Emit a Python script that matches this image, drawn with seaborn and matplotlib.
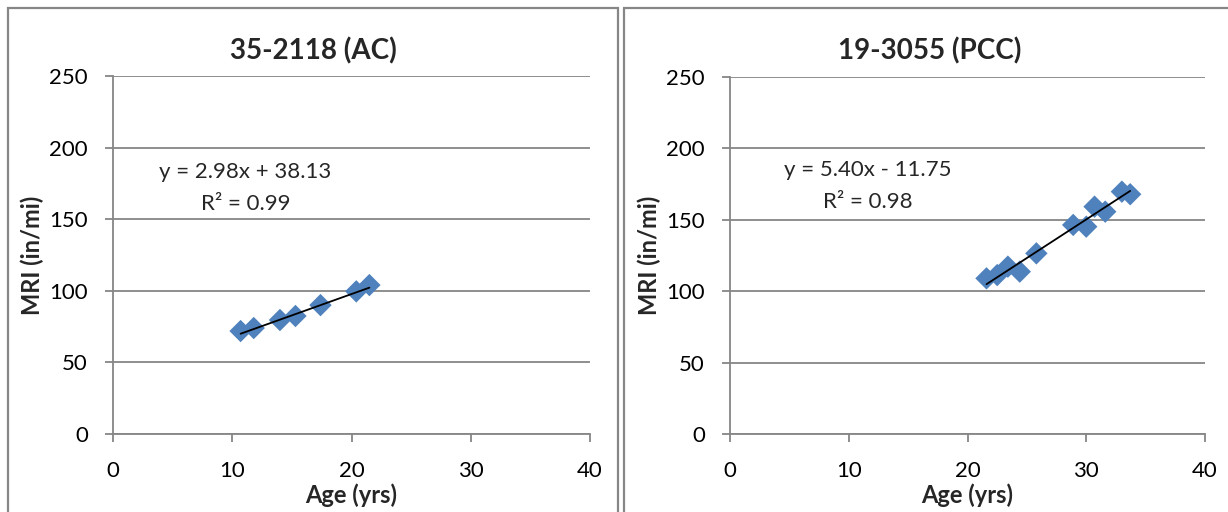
import numpy as np
import pandas as pd
import matplotlib
matplotlib.use("Agg")
import matplotlib.pyplot as plt
from matplotlib.patches import Rectangle
import seaborn as sns

# Section 35-2118 (AC)
ac_age = [10.7, 11.8, 14.0, 15.3, 17.4, 20.4, 21.5]
ac_mri = [71.9, 74.0, 79.6, 82.4, 90.0, 99.6, 104.0]
ac_slope, ac_intercept, ac_r2 = 2.98, 38.13, 0.99

# Section 19-3055 (PCC)
pcc_age = [21.6, 22.5, 23.4, 24.4, 25.8, 28.9, 30.0, 30.7, 31.6, 33.0, 33.7]
pcc_mri = [109.0, 111.3, 117.2, 113.7, 126.5, 146.4, 145.2, 159.2, 155.7, 169.7, 167.9]
pcc_slope, pcc_intercept, pcc_r2 = 5.40, -11.75, 0.98

titles = ["35-2118 (AC)", "19-3055 (PCC)"]
x_ticks = [0, 10, 20, 30, 40]
y_ticks = [0, 50, 100, 150, 200, 250]

sns.set_theme(style="white")
plt.rcParams["font.family"] = ["Lato", "DejaVu Sans"]

W, H = 1228, 512
fig = plt.figure(figsize=(W / 100, H / 100), dpi=100)

GRAY = "#868686"
BLUE = "#4F81BD"

# chart-area frames
fig.patches.append(Rectangle((8 / W, -0.05), 610 / W, 1.05 - 8 / H, transform=fig.transFigure,
                             fill=False, edgecolor=GRAY, linewidth=1.6))
fig.patches.append(Rectangle((624 / W, -0.05), 620 / W, 1.05 - 8 / H, transform=fig.transFigure,
                             fill=False, edgecolor=GRAY, linewidth=1.6))

panels = [
    dict(rect=[113 / W, 78 / H, 477 / W, 358 / H], age=ac_age, mri=ac_mri,
         m=ac_slope, b=ac_intercept, r2=ac_r2, title=titles[0], tx=313, eq=(11.1, 183, 160.5)),
    dict(rect=[730 / W, 78 / H, 475 / W, 357 / H], age=pcc_age, mri=pcc_mri,
         m=pcc_slope, b=pcc_intercept, r2=pcc_r2, title=titles[1], tx=930, eq=(11.6, 185, 162.5)),
]

for p in panels:
    ax = fig.add_axes(p["rect"])
    df = pd.DataFrame({"Age": p["age"], "MRI": p["mri"]})
    ax.set_xlim(0, 40)
    ax.set_ylim(0, 250)
    ax.set_xticks(x_ticks)
    ax.set_yticks(y_ticks)
    ax.yaxis.grid(True, color=GRAY, linewidth=1.3)
    ax.xaxis.grid(False)
    ax.set_axisbelow(True)
    for s in ["top", "right"]:
        ax.spines[s].set_visible(False)
    for s in ["left", "bottom"]:
        ax.spines[s].set_color(GRAY)
        ax.spines[s].set_linewidth(1.3)
    ax.tick_params(axis="both", direction="out", length=5.5, width=1.3, color=GRAY,
                   labelsize=16, labelcolor="black")
    ax.tick_params(axis="x", bottom=True, pad=14)
    ax.tick_params(axis="y", left=True, pad=12.5)

    sns.scatterplot(data=df, x="Age", y="MRI", marker="D", s=130, color=BLUE,
                    edgecolor="none", ax=ax, zorder=3)
    xs = np.array([min(p["age"]), max(p["age"])])
    ax.plot(xs, p["m"] * xs + p["b"], color="black", linewidth=1.3, zorder=4)

    sign = "+" if p["b"] >= 0 else "-"
    ex, ey1, ey2 = p["eq"]
    ax.text(ex, ey1, f"y = {p['m']:.2f}x {sign} {abs(p['b']):.2f}", ha="center", va="center",
            fontsize=16)
    ax.text(ex, ey2, f"R² = {p['r2']:.2f}", ha="center", va="center", fontsize=16)

    ax.set_xlabel("Age (yrs)", fontsize=17, fontweight="bold", labelpad=2)
    ax.set_ylabel("MRI (in/mi)", fontsize=17, fontweight="bold", labelpad=4)
    fig.text(p["tx"] / W, 1 - 51 / H, p["title"], ha="center", va="center",
             fontsize=20, fontweight="bold")

fig.savefig("out.png", dpi=100)
